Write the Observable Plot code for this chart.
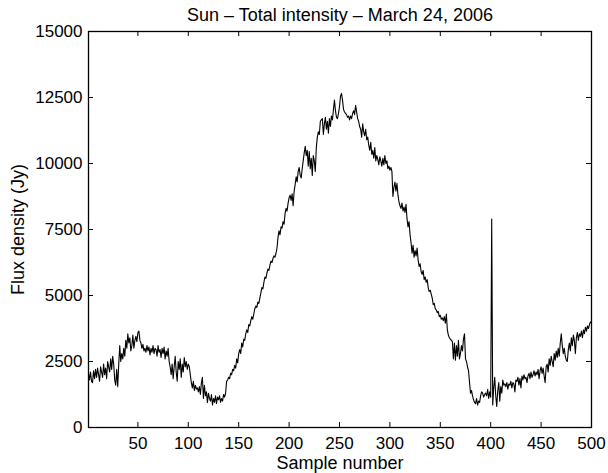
<!DOCTYPE html>
<html>
<head>
<meta charset="utf-8">
<script src="https://cdn.jsdelivr.net/npm/d3@7"></script>
<script src="https://cdn.jsdelivr.net/npm/@observablehq/plot@0.6"></script>
<style>
  html, body { margin: 0; padding: 0; background: #fff; }
  #chart { width: 608px; height: 473px; }
</style>
</head>
<body>
<div id="chart"></div>
<script>
const title = "Sun – Total intensity – March 24, 2006";
const xLabel = "Sample number";
const yLabel = "Flux density (Jy)";
const xTicks = [50, 100, 150, 200, 250, 300, 350, 400, 450, 500];
const yTicks = [0, 2500, 5000, 7500, 10000, 12500, 15000];
const flux = [
  2050, 1800, 2100, 1750, 1700, 2150, 1850, 2200, 1900, 2250,
  2000, 1750, 2300, 2100, 1900, 2400, 2000, 2250, 1850, 2500,
  2300, 2100, 2600, 2200, 2700, 2400, 1800, 1600, 2200, 1550,
  2400, 3100, 2500, 2800, 2600, 3000, 2700, 3300, 3000, 3550,
  3200, 3400, 2900, 3100, 3500, 3000, 3300, 3450, 3250, 3600,
  3650, 3300, 3200, 3000, 3150, 2900, 3000, 2850, 3100, 2900,
  3050, 2750, 3000, 2850, 3100, 2800, 3000, 2950, 2700, 3100,
  2850, 2950, 2650, 3000, 2800, 3050, 2600, 2900, 2700, 3000,
  2500, 2300, 2000, 2400, 1850, 2300, 2700, 2100, 1750, 2500,
  2200, 2600, 1900, 2400, 2100, 2650, 2300, 2500, 2200, 2400,
  2300, 2000, 1700, 1500, 1750, 1400, 1600, 1450, 1500, 1350,
  1550, 1250, 1700, 1900, 1100, 1600, 1200, 1350, 950, 1300,
  1100, 1000, 1250, 850, 1100, 950, 1200, 900, 1150, 1050,
  1200, 950, 1100, 1000, 1250, 1150, 1300, 1750, 1800, 1900,
  1850, 2050, 2000, 2200, 2150, 2350, 2250, 2600, 2450, 2800,
  2950, 2800, 3200, 3050, 3350, 3300, 3550, 3700, 3600, 3900,
  3850, 4050, 4200, 4100, 4300, 4500, 4600, 4550, 4750, 4700,
  4900, 5100, 5300, 5250, 5500, 5700, 5650, 5850, 6000, 5950,
  6150, 6300, 6250, 6400, 6500, 6450, 6600, 6800, 7200, 7450,
  7300, 7600, 7550, 7800, 7700, 8100, 8300, 8200, 8500, 8700,
  8800, 8600, 8850, 8400, 8950, 9200, 9500, 9300, 9700, 9850,
  9550, 9450, 9800, 10100, 10400, 10650, 10300, 10500, 9900, 10450,
  9800, 10200, 9550, 10300, 10100, 9700, 10600, 11000, 11200, 11100,
  11600, 11650, 11700, 11100, 11500, 11750, 11300, 11600, 11150, 11700,
  11400, 11800, 11650, 12050, 12400, 12000, 11750, 11700, 11900, 12150,
  12550, 12650, 12400, 12050, 11950, 11900, 11850, 11750, 11800, 11650,
  11800, 11700, 11900, 12000, 11850, 12200, 11950, 11700, 11600, 11400,
  11300, 11000, 11500, 11200, 11050, 11300, 10900, 11000, 10700, 10500,
  10800, 10350, 10500, 10200, 10600, 10100, 10300, 10150, 9950, 10250,
  10100, 9900, 10200, 9950, 10300, 10000, 10100, 9800, 9900, 9750,
  9850, 9700, 8750, 9100, 9300, 8950, 9250, 8800, 8550, 8400,
  8300, 8500, 8200, 8350, 8150, 8450, 7900, 7600, 7800, 7300,
  7000, 6600, 6900, 6450, 6700, 6500, 6800, 6350, 6100, 6200,
  5900, 5800, 5950, 5600, 5700, 5500, 5600, 5300, 5150, 5200,
  5050, 4900, 4650, 4700, 4500, 4450, 4350, 4400, 4200, 4250,
  4100, 4150, 4050, 4200, 3950, 4300, 3700, 3500, 3400, 3350,
  3300, 3250, 2600, 3200, 2550, 3100, 2700, 3300, 2600, 2800,
  3100, 2900, 3350, 3550, 2600, 2500, 2300, 2150, 1700, 1300,
  1400, 1200, 1050, 950, 900, 1100, 850, 1000, 950, 1200,
  1350, 1300, 1150, 1250, 1300, 1200, 1450, 1100, 1350, 1150,
  7900, 850, 1500, 1900, 1200, 800, 1400, 1700, 1000, 1550,
  1300, 1800, 1600, 1650, 1550, 1700, 1450, 1650, 1600, 1750,
  1500, 1700, 1650, 1350, 1800, 1750, 1900, 1600, 1850, 1500,
  1950, 1800, 2000, 1850, 1900, 1700, 1950, 2050, 1850, 2100,
  1900, 2000, 2150, 1950, 2100, 2000, 2200, 1850, 2150, 2300,
  2050, 2250, 1950, 1700, 2300, 2400, 2100, 2600, 2350, 2700,
  2500, 2300, 2800, 2550, 2900, 2650, 3000, 2700, 3200, 3550,
  3100, 2800, 3000, 2700, 2550, 2500, 2950, 3200, 2900, 3400,
  3100, 3500, 3300, 2800, 3400, 3600, 3300, 3550, 3450, 3650,
  3400, 3700, 3550, 3800, 3650, 3850, 3750, 3900, 4000, 3950
];
const samples = flux.map((_, i) => i + 1);
const data = samples.map((s, i) => ({sample: s, flux: flux[i]}));

const W = 608, H = 473;
const mL = 88, mR = 17, mT = 31, mB = 46;
const frameH = H - mT - mB, frameW = W - mL - mR;
const tk = 5;
const font = "'Liberation Sans', Arial, Helvetica, sans-serif";

const chart = Plot.plot({
  width: W,
  height: H,
  marginLeft: mL,
  marginRight: mR,
  marginTop: mT,
  marginBottom: mB,
  style: {fontFamily: font, fontSize: "17px", color: "#000", background: "#fff"},
  x: {domain: [1, 500]},
  y: {domain: [0, 15000]},
  marks: [
    Plot.line(data, {x: "sample", y: "flux", stroke: "#000", strokeWidth: 1.1}),
    Plot.frame({stroke: "#000", strokeWidth: 1.3}),
    Plot.tickX(xTicks, {x: d => d, insetTop: frameH - tk, stroke: "#000", strokeWidth: 1}),
    Plot.tickX(xTicks, {x: d => d, insetBottom: frameH - tk, stroke: "#000", strokeWidth: 1}),
    Plot.tickY(yTicks, {y: d => d, insetRight: frameW - tk, stroke: "#000", strokeWidth: 1}),
    Plot.tickY(yTicks, {y: d => d, insetLeft: frameW - tk, stroke: "#000", strokeWidth: 1}),
    Plot.axisX(xTicks, {tickSize: 0, tickPadding: 9, label: null, fontSize: 17}),
    Plot.axisY(yTicks, {tickSize: 0, tickPadding: 6, label: null, fontSize: 17, tickFormat: d => String(d)}),
    Plot.text([xLabel], {text: d => d, frameAnchor: "bottom", textAnchor: "middle", lineAnchor: "middle", dy: 36, fontSize: 18, fill: "#000"}),
    Plot.text([yLabel], {text: d => d, frameAnchor: "left", textAnchor: "middle", lineAnchor: "middle", dx: -70, rotate: -90, fontSize: 18, fill: "#000"}),
    Plot.text([title], {text: d => d, frameAnchor: "top", textAnchor: "middle", lineAnchor: "middle", dy: -16, fontSize: 18, fill: "#000"})
  ]
});
document.getElementById("chart").appendChild(chart);
</script>
</body>
</html>
